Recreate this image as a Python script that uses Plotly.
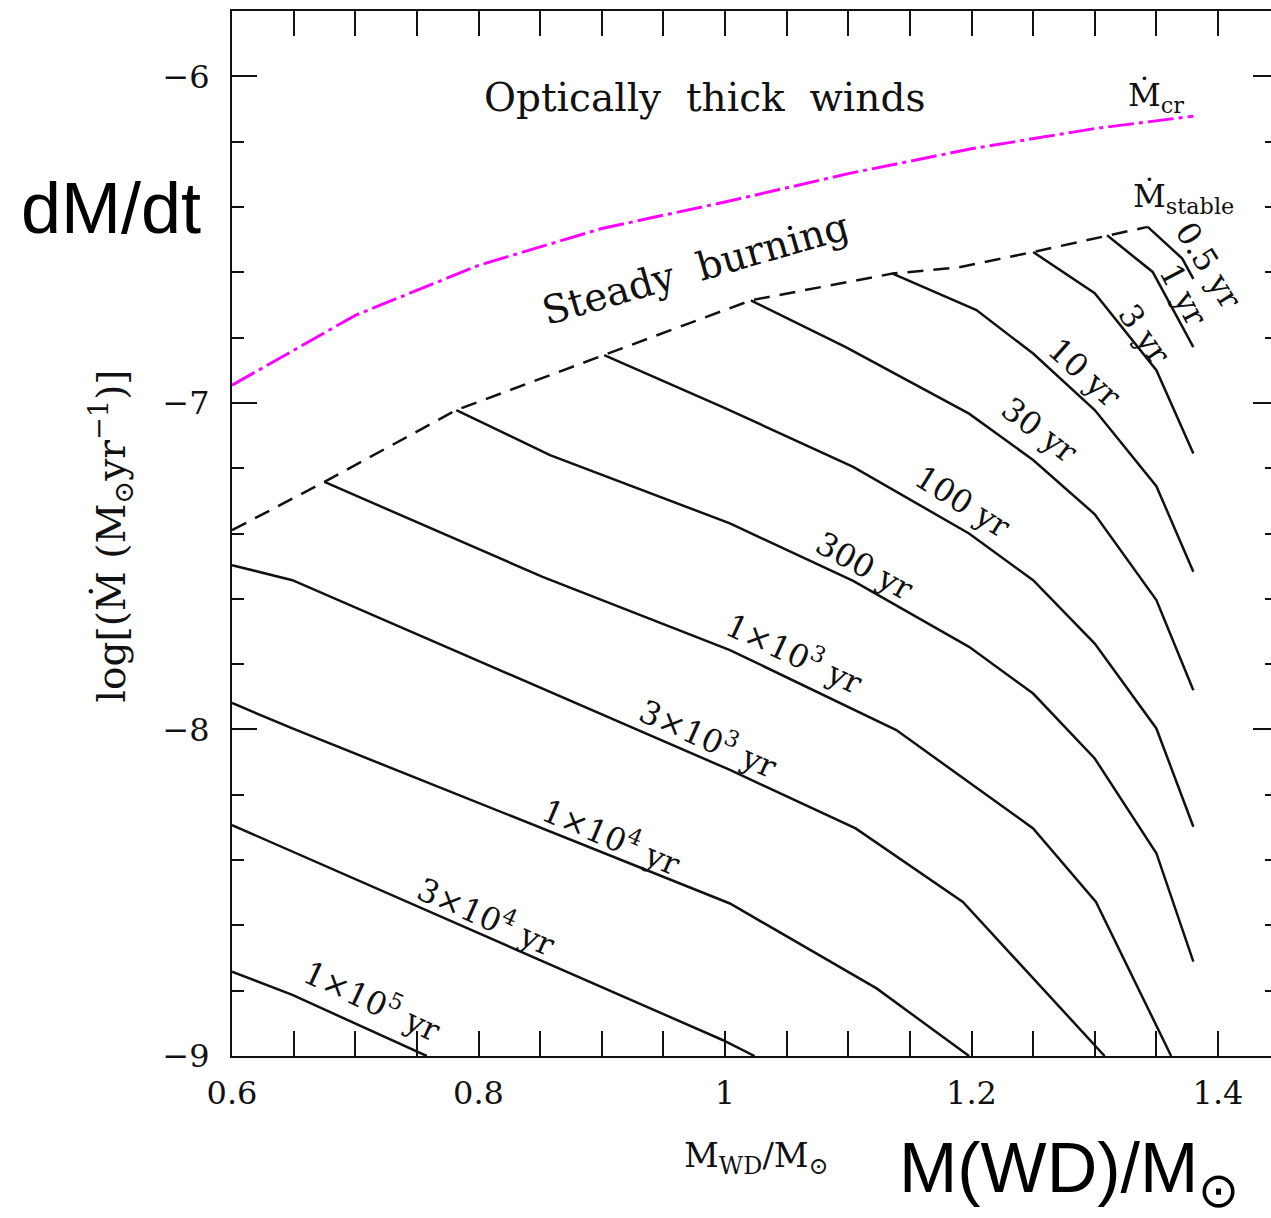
import plotly.graph_objects as go

# ---- data: log accretion rate vs white dwarf mass ----
# critical rate above which optically thick winds occur
mcr_mass = [0.6, 0.7, 0.8, 0.9, 1.0, 1.1, 1.2, 1.3, 1.38]
mcr_logm = [-6.946, -6.732, -6.579, -6.466, -6.385, -6.298, -6.222, -6.16, -6.122]

# lower edge of the steady hydrogen burning band
stable_mass = [0.6, 0.675, 0.782, 0.902, 1.021, 1.136, 1.19, 1.25, 1.31, 1.343]
stable_logm = [-7.39, -7.242, -7.022, -6.854, -6.686, -6.604, -6.585, -6.538, -6.487, -6.461]

# nova recurrence-time contours
t05_mass = [1.343, 1.371, 1.38]
t05_logm = [-6.461, -6.558, -6.62]
t1_mass = [1.31, 1.347, 1.38]
t1_logm = [-6.487, -6.599, -6.829]
t3_mass = [1.25, 1.30, 1.35, 1.38]
t3_logm = [-6.538, -6.664, -6.900, -7.155]
t10_mass = [1.136, 1.204, 1.25, 1.30, 1.35, 1.38]
t10_logm = [-6.604, -6.716, -6.849, -7.022, -7.255, -7.517]
t30_mass = [1.021, 1.098, 1.198, 1.25, 1.30, 1.35, 1.38]
t30_logm = [-6.686, -6.829, -7.033, -7.175, -7.341, -7.604, -7.880]
t100_mass = [0.902, 1.0, 1.104, 1.198, 1.25, 1.30, 1.35, 1.38]
t100_logm = [-6.854, -7.016, -7.196, -7.400, -7.543, -7.737, -7.997, -8.298]
t300_mass = [0.782, 0.858, 1.004, 1.104, 1.198, 1.25, 1.30, 1.35, 1.38]
t300_logm = [-7.022, -7.16, -7.369, -7.545, -7.747, -7.890, -8.089, -8.379, -8.711]
t1e3_mass = [0.675, 0.852, 1.004, 1.139, 1.25, 1.301, 1.362]
t1e3_logm = [-7.242, -7.533, -7.757, -8.002, -8.303, -8.528, -9.0]
t3e3_mass = [0.6, 0.649, 1.004, 1.106, 1.193, 1.308]
t3e3_logm = [-7.497, -7.543, -8.124, -8.303, -8.528, -9.0]
t1e4_mass = [0.6, 0.649, 1.004, 1.123, 1.198]
t1e4_logm = [-7.919, -7.997, -8.533, -8.793, -9.0]
t3e4_mass = [0.6, 0.652, 0.998, 1.024]
t3e4_logm = [-8.293, -8.379, -8.951, -9.0]
t1e5_mass = [0.6, 0.649, 0.758]
t1e5_logm = [-8.742, -8.813, -9.0]

contour_names = ["0.5 yr", "1 yr", "3 yr", "10 yr", "30 yr", "100 yr", "300 yr",
                 "1×10<sup>3</sup> yr", "3×10<sup>3</sup> yr", "1×10<sup>4</sup> yr",
                 "3×10<sup>4</sup> yr", "1×10<sup>5</sup> yr"]
contour_mass = [t05_mass, t1_mass, t3_mass, t10_mass, t30_mass, t100_mass, t300_mass,
                t1e3_mass, t3e3_mass, t1e4_mass, t3e4_mass, t1e5_mass]
contour_logm = [t05_logm, t1_logm, t3_logm, t10_logm, t30_logm, t100_logm, t300_logm,
                t1e3_logm, t3e3_logm, t1e4_logm, t3e4_logm, t1e5_logm]

x_tickvals = [0.6, 0.8, 1.0, 1.2, 1.4]
x_ticktext = ["0.6", "0.8", "1", "1.2", "1.4"]
y_tickvals = [-9, -8, -7, -6]
y_ticktext = ["\u22129", "\u22128", "\u22127", "\u22126"]

# ---- label placement (centre in data units, rotation in degrees) ----
label_pos = [
    (1.392, -6.579, 58), (1.372, -6.67, 62), (1.34, -6.79, 55), (1.292, -6.909, 42),
    (1.255, -7.084, 37), (1.193, -7.304, 32), (1.113, -7.500, 29), (1.057, -7.763, 25),
    (0.987, -8.023, 24), (0.908, -8.323, 23), (0.807, -8.568, 24), (0.714, -8.825, 25),
]

SERIF = "DejaVu Serif"
INK = "#111111"

fig = go.Figure()

for m, lg, name in zip(contour_mass, contour_logm, contour_names):
    fig.add_trace(go.Scatter(x=m, y=lg, mode="lines", name=name,
                             line=dict(color=INK, width=2.5), hoverinfo="skip"))

fig.add_trace(go.Scatter(x=stable_mass, y=stable_logm, mode="lines", name="stable",
                         line=dict(color=INK, width=2.5, dash="16px,10px"), hoverinfo="skip"))
fig.add_trace(go.Scatter(x=mcr_mass, y=mcr_logm, mode="lines", name="cr",
                         line=dict(color="#ff00ff", width=3, dash="26px,5px,4px,5px"),
                         hoverinfo="skip"))
# carrier for the right-hand tick axis
fig.add_trace(go.Scatter(x=mcr_mass, y=mcr_logm, mode="lines", yaxis="y2",
                         line=dict(width=0), opacity=0, hoverinfo="skip", showlegend=False))


def note(x, y, text, size, ref="data", angle=0, family=SERIF, color=INK):
    xr, yr = ("x", "y") if ref == "data" else ("paper", "paper")
    return dict(x=x, y=y, xref=xr, yref=yr, text=text, showarrow=False, textangle=angle,
                xanchor="center", yanchor="middle",
                font=dict(family=family, size=size, color=color))


annotations = [note(lx, ly, name, 32, angle=ang)
               for (lx, ly, ang), name in zip(label_pos, contour_names)]

annotations += [
    note(0.983, -6.064, "Optically  thick  winds", 39),
    note(0.976, -6.588, "Steady  burning", 39, angle=-16),
    note(1.35, -6.064, "\u1e40<sub>cr</sub>", 32),
    note(1.372, -6.373, "\u1e40<sub>stable</sub>", 32),
    # axis titles
    note(-0.116, 0.4976, "log[(\u1e40 (M<sub>\u2299</sub>yr<sup>\u22121</sup>)]", 39,
         ref="paper", angle=-90),
    note(0.505, -0.0967, "M<sub>WD</sub>/M<sub>\u2299</sub>", 34, ref="paper"),
    # large sans captions
    note(-0.116, 0.8115, "dM/dt", 72, ref="paper", family="Liberation Sans", color="#000000"),
    note(0.806, -0.112, "M(WD)/M<sub>\u2299</sub>", 70, ref="paper",
         family="Liberation Sans", color="#000000"),
]

axis_common = dict(showgrid=False, zeroline=False, ticks="inside", tickwidth=2,
                   tickcolor=INK, ticklen=25,
                   tickfont=dict(family=SERIF, size=32, color=INK))

fig.update_layout(
    width=1271, height=1218,
    margin=dict(l=232, r=0, t=11, b=162),
    paper_bgcolor="white", plot_bgcolor="white",
    showlegend=False,
    annotations=annotations,
    xaxis=dict(range=[0.6, 1.443], tickvals=x_tickvals, ticktext=x_ticktext,
               showline=True, linewidth=2, linecolor=INK, mirror="allticks",
               ticklabelstandoff=8,
               minor=dict(dtick=0.05, tick0=0.6, ticks="inside", ticklen=12,
                          tickwidth=2, tickcolor=INK),
               **axis_common),
    yaxis=dict(range=[-9, -5.8], tickvals=y_tickvals, ticktext=y_ticktext,
               showline=True, linewidth=2, linecolor=INK, mirror=False,
               ticklabelstandoff=14,
               minor=dict(dtick=0.2, tick0=-9, ticks="inside", ticklen=12,
                          tickwidth=2, tickcolor=INK),
               **axis_common),
    yaxis2=dict(range=[-9, -5.8], overlaying="y", side="right", showgrid=False,
                zeroline=False, showline=False, showticklabels=False,
                tickvals=y_tickvals, ticks="inside", ticklen=18, tickwidth=2,
                tickcolor=INK,
                minor=dict(dtick=0.2, tick0=-9, ticks="inside", ticklen=6,
                           tickwidth=2, tickcolor=INK)),
)

fig.write_html("out.html")
